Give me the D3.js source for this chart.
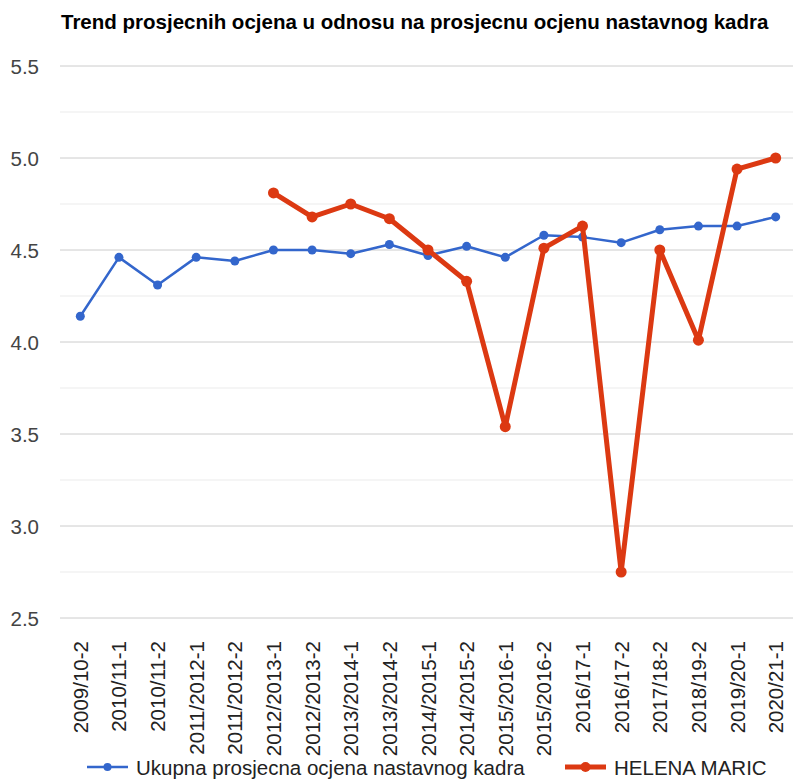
<!DOCTYPE html>
<html>
<head>
<meta charset="utf-8">
<script src="https://cdn.jsdelivr.net/npm/d3@7"></script>
<style>
  body { margin: 0; background: #fff; }
  svg { font-family: "Liberation Sans", Arial, sans-serif; }
</style>
</head>
<body>
<div id="chart"></div>
<script>
const width = 793, height = 780;

const periods = ["2009/10-2", "2010/11-1", "2010/11-2", "2011/2012-1", "2011/2012-2",
  "2012/2013-1", "2012/2013-2", "2013/2014-1", "2013/2014-2", "2014/2015-1",
  "2014/2015-2", "2015/2016-1", "2015/2016-2", "2016/17-1", "2016/17-2",
  "2017/18-2", "2018/19-2", "2019/20-1", "2020/21-1"];

const ukupna = [4.14, 4.46, 4.31, 4.46, 4.44, 4.50, 4.50, 4.48, 4.53, 4.47,
  4.52, 4.46, 4.58, 4.57, 4.54, 4.61, 4.63, 4.63, 4.68];

const helena = [null, null, null, null, null, 4.81, 4.68, 4.75, 4.67, 4.50,
  4.33, 3.54, 4.51, 4.63, 2.75, 4.50, 4.01, 4.94, 5.00];

const yTicks = [2.5, 3.0, 3.5, 4.0, 4.5, 5.0, 5.5];
const yMinor = [2.75, 3.25, 3.75, 4.25, 4.75, 5.25];

const seriesNames = ["Ukupna prosjecna ocjena nastavnog kadra", "HELENA MARIC"];
const colors = ["#3366cc", "#dc3912"];

const fontSize = 20.5;

const svg = d3.select("#chart")
  .append("svg")
  .attr("width", width)
  .attr("height", height);

const x = d3.scalePoint()
  .domain(periods)
  .range([61, 795])
  .padding(0.5);

const y = d3.scaleLinear()
  .domain([2.5, 5.5])
  .range([618, 66]);

// title
svg.append("text")
  .attr("x", 61)
  .attr("y", 29)
  .attr("font-weight", "bold")
  .attr("font-size", fontSize)
  .attr("fill", "#000")
  .text("Trend prosjecnih ocjena u odnosu na prosjecnu ocjenu nastavnog kadra");

// gridlines
svg.append("g")
  .selectAll("line")
  .data(yMinor)
  .join("line")
  .attr("x1", 60).attr("x2", width)
  .attr("y1", d => y(d)).attr("y2", d => y(d))
  .attr("stroke", "#ebebeb")
  .attr("stroke-width", 1);

svg.append("g")
  .selectAll("line")
  .data(yTicks)
  .join("line")
  .attr("x1", 60).attr("x2", width)
  .attr("y1", d => y(d)).attr("y2", d => y(d))
  .attr("stroke", "#cccccc")
  .attr("stroke-width", 1);

// y labels
svg.append("g")
  .selectAll("text")
  .data(yTicks)
  .join("text")
  .attr("x", 39)
  .attr("y", d => y(d))
  .attr("text-anchor", "end")
  .attr("dominant-baseline", "central")
  .attr("font-size", fontSize)
  .attr("fill", "#444")
  .text(d => d.toFixed(1));

// x labels
svg.append("g")
  .selectAll("text")
  .data(periods)
  .join("text")
  .attr("transform", d => `translate(${x(d)},641) rotate(-90)`)
  .attr("text-anchor", "end")
  .attr("dominant-baseline", "central")
  .attr("font-size", fontSize)
  .attr("fill", "#222")
  .text(d => d);

// lines
const series = [ukupna, helena];
const widths = [2.5, 5];
const radii = [4.5, 5.5];

series.forEach((vals, s) => {
  const pts = periods.map((p, i) => ({ p, v: vals[i] })).filter(d => d.v != null);
  const line = d3.line().x(d => x(d.p)).y(d => y(d.v));
  svg.append("path")
    .datum(pts)
    .attr("fill", "none")
    .attr("stroke", colors[s])
    .attr("stroke-width", widths[s])
    .attr("stroke-linejoin", "round")
    .attr("d", line);
  svg.append("g")
    .selectAll("circle")
    .data(pts)
    .join("circle")
    .attr("cx", d => x(d.p))
    .attr("cy", d => y(d.v))
    .attr("r", radii[s])
    .attr("fill", colors[s]);
});

// legend
const legendX = [87, 565];
const legend = svg.append("g")
  .selectAll("g")
  .data(seriesNames)
  .join("g")
  .attr("transform", (d, i) => `translate(${legendX[i]},767)`);

legend.append("line")
  .attr("x1", 0).attr("x2", 41)
  .attr("stroke", (d, i) => colors[i])
  .attr("stroke-width", (d, i) => widths[i]);

legend.append("circle")
  .attr("cx", 20.5)
  .attr("r", (d, i) => radii[i] - 0.5)
  .attr("fill", (d, i) => colors[i]);

legend.append("text")
  .attr("x", 49)
  .attr("dominant-baseline", "central")
  .attr("font-size", fontSize)
  .attr("fill", "#222")
  .text(d => d);
</script>
</body>
</html>
